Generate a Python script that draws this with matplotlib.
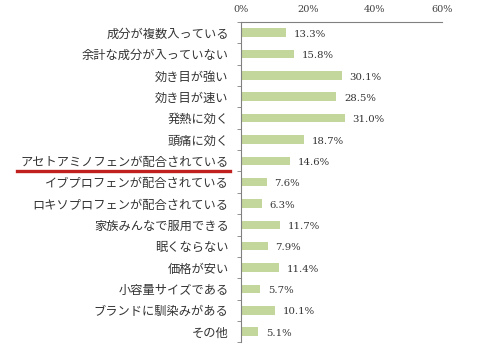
import matplotlib.pyplot as plt
import numpy as np
from matplotlib.lines import Line2D

plt.rcParams['font.family'] = ['Noto Sans CJK JP', 'DejaVu Sans']

labels = [
    "成分が複数入っている",
    "余計な成分が入っていない",
    "効き目が強い",
    "効き目が速い",
    "発熱に効く",
    "頭痛に効く",
    "アセトアミノフェンが配合されている",
    "イブプロフェンが配合されている",
    "ロキソプロフェンが配合されている",
    "家族みんなで服用できる",
    "眠くならない",
    "価格が安い",
    "小容量サイズである",
    "ブランドに馴染みがある",
    "その他",
]
values = [13.3, 15.8, 30.1, 28.5, 31.0, 18.7, 14.6, 7.6, 6.3, 11.7, 7.9, 11.4, 5.7, 10.1, 5.1]
xticks = [0, 20, 40, 60]
highlight = "アセトアミノフェンが配合されている"

fig = plt.figure(figsize=(4.91, 3.44), dpi=100)
ax = fig.add_axes([0.491, 0.005, 0.409, 0.931])

y = np.arange(len(labels))
ax.barh(y, values, height=0.4, color="#c3d69b")
ax.set_ylim(len(labels) - 0.5, -0.5)
ax.set_xlim(0, 60)

for yi, v in zip(y, values):
    ax.text(v + 2.3, yi + 0.08, f"{v:.1f}%", va="center", ha="left",
            fontsize=7.3, family="DejaVu Serif", color="#333333")

# category labels on the left, ticks between the bars
ax.set_yticks(y)
ax.set_yticklabels(labels, fontsize=8.8, color="#333333")
ax.tick_params(axis="y", which="major", length=0, pad=9)
ax.set_yticks(np.arange(len(labels) + 1) - 0.5, minor=True)
ax.tick_params(axis="y", which="minor", length=3, color="#808080", direction="out")

ax.xaxis.tick_top()
ax.set_xticks(xticks)
ax.set_xticklabels([f"{t}%" for t in xticks], family="DejaVu Serif",
                   fontsize=7, color="#404040")
ax.tick_params(axis="x", length=0, pad=6)

for side in ["right", "bottom"]:
    ax.spines[side].set_visible(False)
ax.spines["top"].set_color("#808080")
ax.spines["left"].set_color("#808080")
ax.spines["top"].set_linewidth(0.8)
ax.spines["left"].set_linewidth(0.8)

# red underline under the highlighted item
idx = labels.index(highlight)
fig.canvas.draw()
lab = ax.get_yticklabels()[idx]
bb = lab.get_window_extent().transformed(fig.transFigure.inverted())
fig.add_artist(Line2D([bb.x0 - 0.006, bb.x1 + 0.003], [bb.y0 - 0.006, bb.y0 - 0.006],
                      transform=fig.transFigure, color="#c0201e", linewidth=2.4))

fig.savefig("out.png", dpi=100)
